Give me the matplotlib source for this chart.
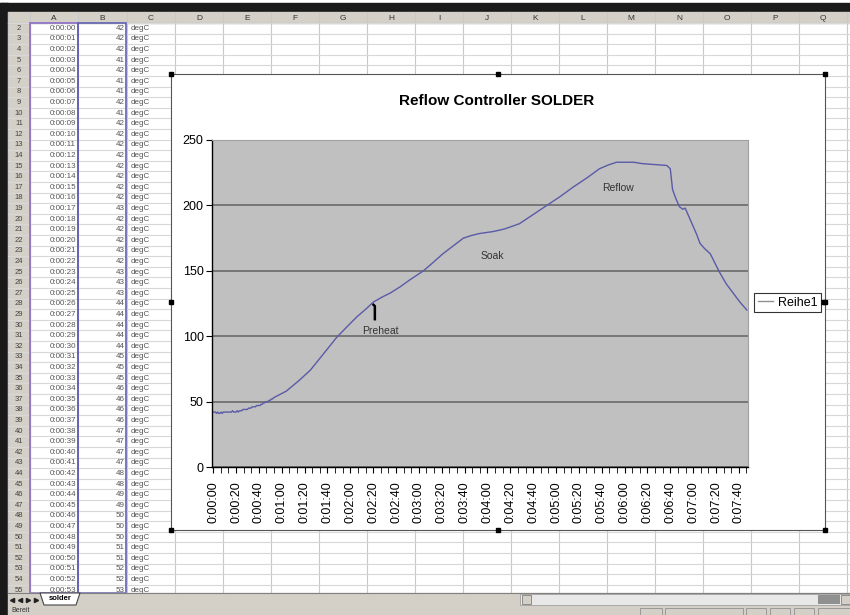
import matplotlib
matplotlib.use('Agg')
import matplotlib.pyplot as plt
from matplotlib.patches import Rectangle, Polygon
from matplotlib.ticker import MultipleLocator, FuncFormatter

plt.rcParams['font.family'] = ['Liberation Sans', 'DejaVu Sans']

# 表格中可见的前 54 秒 (A 列时间, B 列温度)
sheet_seconds = list(range(54))
sheet_temps = [42, 42, 42, 41, 42, 41, 41, 42, 41, 42,
               42, 42, 42, 42, 42, 42, 42, 43, 42, 42,
               42, 43, 42, 43, 43, 43, 44, 44, 44, 44,
               44, 45, 45, 45, 46, 46, 46, 46, 47, 47,
               47, 47, 48, 48, 49, 49, 50, 50, 50, 51,
               51, 52, 52, 53]

# 之后的曲线从图上读出
curve_seconds = [64, 75, 85, 97, 108, 118, 126, 134, 140, 148, 155, 164, 172, 184,
                 192, 201, 210, 219, 226, 233, 245, 255, 268, 280, 292, 304, 315,
                 327, 338, 346, 353, 360, 368, 375, 382, 390, 397, 400, 402, 405,
                 408, 411, 413, 416, 419, 423, 426, 430, 435, 439, 443, 449, 455,
                 461, 467]
curve_temps = [58, 66, 74, 87, 99, 108, 115, 121, 126, 130, 133, 138, 143, 150,
               156, 163, 169, 175, 177, 178.5, 180, 182, 186, 193, 200, 207, 214,
               221, 228, 231, 233, 233, 233, 232, 231.5, 231, 230.5, 228, 212, 205,
               199, 197, 198, 192, 186, 178, 171, 167, 163, 156, 149, 140, 133,
               126, 120]

seconds = sheet_seconds + curve_seconds
temps = sheet_temps + curve_temps

col_letters = list('ABCDEFGHIJKLMNOPQ')
phase_labels = ['Preheat', 'Soak', 'Reflow']
phase_pos = [(146, 104), (244, 161), (354, 213)]
series_name = 'Reihe1'
title = 'Reflow Controller SOLDER'


def hms(s, pos=None):
    s = int(round(s))
    return '%d:%02d:%02d' % (s // 3600, (s // 60) % 60, s % 60)


W, H = 850, 615
fig = plt.figure(figsize=(8.5, 6.15), dpi=100)
fig.patch.set_facecolor('white')

# ---- 背景: Excel 表格 ----
bg = fig.add_axes([0, 0, 1, 1])
bg.set_xlim(0, W)
bg.set_ylim(H, 0)
bg.axis('off')

head_top, head_bot = 12, 23
row_h = 10.6
grid_bot = 593
col_edges = [8, 30, 78, 127, 175] + [175 + 48 * k for k in range(1, 15)]
gray = '#d4d0c8'

# 顶部黑条和左侧黑条
bg.add_patch(Rectangle((0, 3), W, head_top - 3, color='#1a1a1a', zorder=1))
bg.add_patch(Rectangle((0, 3), 8, H - 3, color='#1a1a1a', zorder=1))
# 列标题
bg.add_patch(Rectangle((8, head_top), W - 8, head_bot - head_top, color=gray, zorder=1))
# 行号列
bg.add_patch(Rectangle((8, head_bot), 22, grid_bot - head_bot, color=gray, zorder=1))

for e in col_edges:
    bg.plot([e, e], [head_top, grid_bot], color='#c8c8c8', lw=0.8, zorder=2)
for i, letter in enumerate(col_letters):
    if i + 2 < len(col_edges):
        cx = (col_edges[i + 1] + col_edges[i + 2]) / 2
        bg.text(cx, (head_top + head_bot) / 2 + 0.5, letter, fontsize=6, color='#333333',
                ha='center', va='center', zorder=3)
bg.plot([8, W], [head_bot, head_bot], color='#999999', lw=0.8, zorder=2)

nrows = int((grid_bot - head_bot) / row_h) + 1
for r in range(nrows + 1):
    y = head_bot + r * row_h
    if y > grid_bot:
        break
    bg.plot([8, W], [y, y], color='#d8d8d8', lw=0.8, zorder=2)
for r in range(nrows):
    yc = head_bot + (r + 0.5) * row_h
    if yc > grid_bot:
        break
    bg.text(19, yc, str(r + 2), fontsize=5.5, color='#444444', ha='center', va='center',
            zorder=3, clip_on=True)
    if r < len(sheet_seconds):
        bg.text(76, yc, hms(sheet_seconds[r]), fontsize=5.8, color='#555555',
                ha='right', va='center', zorder=3)
        bg.text(125, yc, str(sheet_temps[r]), fontsize=5.8, color='#555555',
                ha='right', va='center', zorder=3)
        bg.text(131, yc, 'degC', fontsize=5.8, color='#555555',
                ha='left', va='center', zorder=3)

# 选中的 A / B 列边框
bg.add_patch(Rectangle((30.5, head_bot), 47.5, grid_bot - head_bot, fill=False,
                       edgecolor='#8a6cc4', lw=1.2, zorder=4))
bg.add_patch(Rectangle((78.5, head_bot), 48, grid_bot - head_bot, fill=False,
                       edgecolor='#6060b0', lw=1.2, zorder=4))

# 工作表标签栏
bg.add_patch(Rectangle((8, grid_bot), W - 8, 13, color=gray, zorder=5))
bg.plot([8, W], [grid_bot, grid_bot], color='#808080', lw=0.8, zorder=6)
for xm, mk in [(12, '<'), (20, '<'), (28, '>'), (36, '>')]:
    bg.plot(xm, grid_bot + 6.5, marker=mk, ms=3, color='#222222', zorder=6)
bg.add_patch(Polygon([[40, grid_bot], [44, grid_bot + 12], [76, grid_bot + 12], [80, grid_bot]],
                     closed=True, facecolor='white', edgecolor='#444444', lw=0.8, zorder=6))
bg.text(60, grid_bot + 6, 'solder', fontsize=5.5, fontweight='bold', ha='center',
        va='center', zorder=7)
bg.add_patch(Rectangle((520, grid_bot + 1), W - 520, 11, facecolor='#e8e8e8',
                       edgecolor='#a0a0a0', lw=0.6, zorder=6))
bg.add_patch(Rectangle((522, grid_bot + 2), 9, 9, facecolor=gray, edgecolor='#808080',
                       lw=0.6, zorder=7))
bg.add_patch(Rectangle((818, grid_bot + 2), 22, 9, facecolor='#909090', zorder=7))
bg.add_patch(Rectangle((841, grid_bot + 2), 9, 9, facecolor=gray, edgecolor='#808080',
                       lw=0.6, zorder=7))

# 状态栏
bg.add_patch(Rectangle((8, grid_bot + 13), W - 8, H - grid_bot - 13, color=gray, zorder=5))
bg.text(11, grid_bot + 17.5, 'Bereit', fontsize=5, color='#333333', va='center', zorder=6)
for x0, w in [(640, 22), (665, 78), (746, 20), (770, 20), (794, 20), (818, 32)]:
    bg.add_patch(Rectangle((x0, grid_bot + 14.5), w, 7, fill=False, edgecolor='#909090',
                           lw=0.6, zorder=6))

# 图表区域(白底 + 选中控制点)
cl, ct, cr, cb = 171, 74, 825, 530
bg.add_patch(Rectangle((cl, ct), cr - cl, cb - ct, facecolor='white', edgecolor='#555555',
                       lw=0.8, zorder=8))
for hx in [cl, (cl + cr) / 2, cr]:
    for hy in [ct, (ct + cb) / 2, cb]:
        if hx == (cl + cr) / 2 and hy == (ct + cb) / 2:
            continue
        bg.add_patch(Rectangle((hx - 2, hy - 2), 4, 4, color='black', zorder=9))

fig.text(497 / W, 1 - 101 / H, title, fontsize=11, fontweight='bold', ha='center',
         va='center', zorder=10)

# ---- 折线图 ----
pl, pt, pr, pb = 212, 140, 748, 467
ax = fig.add_axes([pl / W, 1 - pb / H, (pr - pl) / W, (pb - pt) / H])
ax.set_facecolor('#c0c0c0')
line, = ax.plot(seconds, temps, color='#5a5aa8', lw=1.0, label=series_name)
ax.set_xlim(-1, 468)
ax.set_ylim(0, 250)
ax.yaxis.set_major_locator(MultipleLocator(50))
ax.xaxis.set_major_locator(MultipleLocator(20))
ax.xaxis.set_minor_locator(MultipleLocator(20 / 3))
ax.xaxis.set_major_formatter(FuncFormatter(hms))
ax.grid(axis='y', color='#6a6a6a', lw=1.2)
ax.set_axisbelow(True)
for s in ['top', 'right']:
    ax.spines[s].set_color('#a0a0a0')
for s in ['left', 'bottom']:
    ax.spines[s].set_color('black')
    ax.spines[s].set_linewidth(1.0)
ax.tick_params(axis='y', labelsize=9, length=4, pad=2)
ax.tick_params(axis='x', which='major', labelsize=9, length=4, pad=6, labelrotation=90)
ax.tick_params(axis='x', which='minor', length=4)

for txt, (tx, ty) in zip(phase_labels, phase_pos):
    ax.text(tx, ty, txt, fontsize=7.5, color='#333333', ha='center', va='center')
# Preheat 上方的小黑标记
mx, my = phase_pos[0][0] - 4.5, phase_pos[0][1]
ax.plot([mx - 1.2, mx, mx], [my + 20, my + 19, my + 9], color='black', lw=1.8)

ax.legend(loc='center left', bbox_to_anchor=(754 / W, 1 - 302.5 / H),
          bbox_transform=fig.transFigure, fontsize=9, frameon=True, fancybox=False,
          edgecolor='black', handlelength=1.2, handletextpad=0.4, borderpad=0.3,
          borderaxespad=0)
leg = ax.get_legend()
leg.get_frame().set_linewidth(0.8)
leg.get_lines()[0].set_color('#909090')
bg.add_patch(Rectangle((821, 300), 4, 4, color='black', zorder=9))

fig.savefig('out.png', dpi=100)
